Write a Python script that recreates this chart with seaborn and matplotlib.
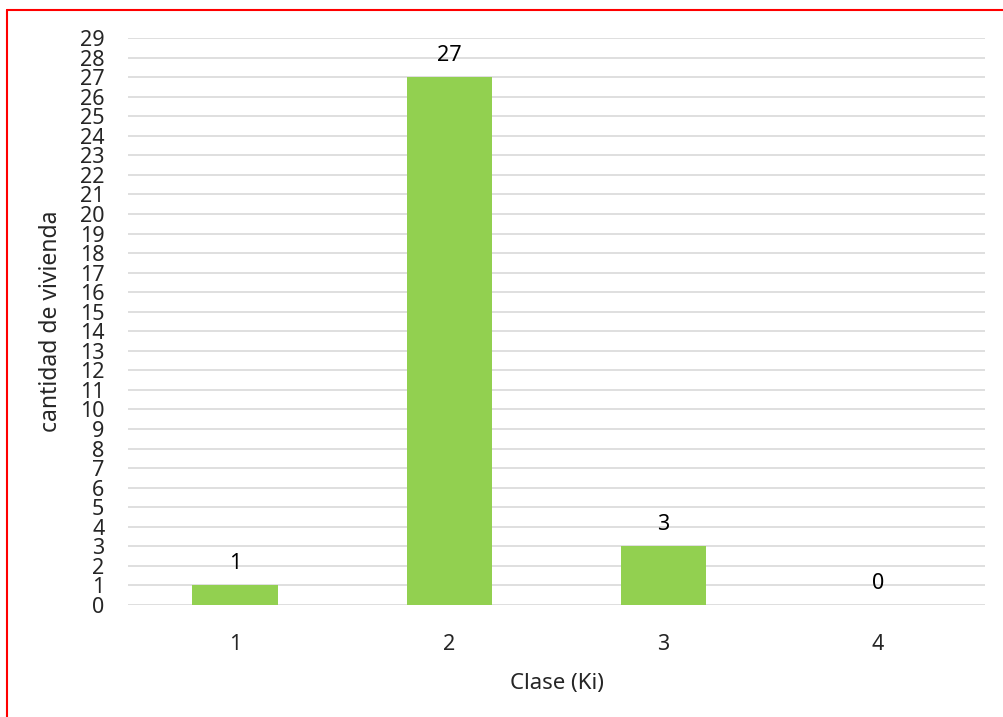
import matplotlib
matplotlib.use("Agg")
import matplotlib.pyplot as plt
from matplotlib.lines import Line2D
import seaborn as sns
import pandas as pd

# Frequency of dwellings per class
clases = ["1", "2", "3", "4"]
viviendas = [1, 27, 3, 0]
y_ticks = list(range(0, 30))

sns.set_theme(style="white")
plt.rcParams["font.family"] = ["Noto Sans", "DejaVu Sans"]

df = pd.DataFrame({"clase": clases, "viviendas": viviendas})

fig = plt.figure(figsize=(10.04, 7.17), dpi=100)
ax = fig.add_axes([0.1275, 0.1562, 0.8535, 0.7908])

sns.barplot(data=df, x="clase", y="viviendas", color="#92D050",
            width=0.4, saturation=1, linewidth=0, ax=ax, zorder=3)

fs = 15.5
ax.set_ylim(0, 29)
ax.set_xlim(-0.5, 3.5)
ax.set_yticks(y_ticks)
ax.set_yticklabels([str(t) for t in y_ticks], fontsize=fs)
ax.tick_params(axis="x", labelsize=fs, length=0, pad=21)
ax.tick_params(axis="y", length=0, pad=17)
ax.yaxis.grid(True, color="#D9D9D9", linewidth=1.2, zorder=0)
ax.set_axisbelow(True)
for s in ax.spines.values():
    s.set_visible(False)

for c in ax.containers:
    ax.bar_label(c, labels=[str(v) for v in viviendas], padding=8,
                 fontsize=fs, color="#000000")

ax.set_xlabel("Clase (Ki)", fontsize=16, labelpad=13)
ax.set_ylabel("cantidad de vivienda", fontsize=16.5, labelpad=12)

# red frame on the left and top edges
fig.add_artist(Line2D([7 / 1004, 7 / 1004], [0, 1 - 10 / 717],
                      transform=fig.transFigure, color="#FF0000", linewidth=1.5))
fig.add_artist(Line2D([7 / 1004, 1], [1 - 10 / 717, 1 - 10 / 717],
                      transform=fig.transFigure, color="#FF0000", linewidth=1.5))

fig.savefig("out.png", dpi=100, facecolor="white")
